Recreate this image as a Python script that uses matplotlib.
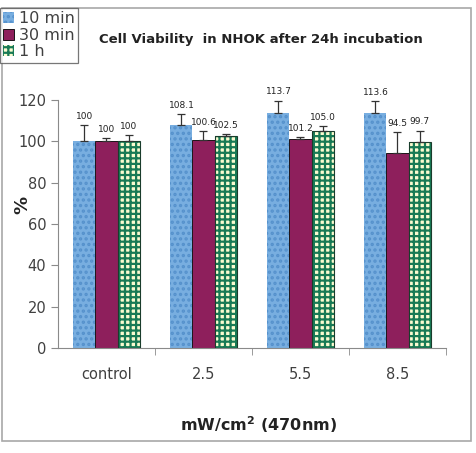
import numpy as np
import matplotlib
matplotlib.use("Agg")
import matplotlib.pyplot as plt
from matplotlib.patches import Rectangle

# data
categories = ["control", "2.5", "5.5", "8.5"]
series_names = ["10 min", "30 min", "1 h"]
values = [
    [100, 108.1, 113.7, 113.6],   # 10 min
    [100, 100.6, 101.2, 94.5],    # 30 min
    [100, 102.5, 105.0, 99.7],    # 1 h
]
errors = [
    [8.0, 5.0, 6.0, 6.0],
    [1.5, 4.5, 1.0, 10.0],
    [3.0, 1.0, 2.5, 5.5],
]
value_labels = [
    ["100", "108.1", "113.7", "113.6"],
    ["100", "100.6", "101.2", "94.5"],
    ["100", "102.5", "105.0", "99.7"],
]

plt.rcParams["hatch.linewidth"] = 1.6

W, H = 477, 453
fig = plt.figure(figsize=(W / 100, H / 100), dpi=100)

# outer frame of the chart area
fig.patches.append(Rectangle((2 / W, 1 - 441 / H), 469 / W, 433 / H,
                             transform=fig.transFigure, fill=False,
                             edgecolor="#a8a8a8", linewidth=1.2))

ax = fig.add_axes([58 / W, 1 - 348 / H, 388 / W, 248 / H])

x = np.arange(len(categories))
bw = 0.227
styles = [
    dict(color="#78aee0", edgecolor="#5591cc", hatch="...", linewidth=0),
    dict(color="#8e1f5c", edgecolor="black", linewidth=0.6),
    dict(facecolor="#fbfbd0", edgecolor="#187a55", hatch="+++", linewidth=0),
]

for i in range(3):
    pos = x + (i - 1) * bw
    ax.bar(pos, values[i], bw, label=series_names[i], zorder=2, **styles[i])
    if i == 2:
        # dark outline around the checkered bars
        ax.bar(pos, values[i], bw, fill=False, edgecolor="#1a3d2c",
               linewidth=0.8, zorder=3)
    ax.errorbar(pos, values[i], yerr=[np.zeros(4), errors[i]], fmt="none",
                ecolor="#333333", elinewidth=0.9, capsize=3, capthick=0.9, zorder=4)
    for p, v, e, lab in zip(pos, values[i], errors[i], value_labels[i]):
        ax.annotate(lab, (p, v + e), xytext=(0, 3), textcoords="offset points",
                    ha="center", va="bottom", fontsize=6.5, color="#222222")

ax.set_xlim(-0.5, 3.5)
ax.set_ylim(0, 120)
ax.set_yticks(np.arange(0, 121, 20))
ax.set_xticks(x)
ax.set_xticklabels(categories)
ax.set_xticks(np.arange(0.5, 4, 1), minor=True)
ax.tick_params(axis="x", which="major", length=0, pad=14, labelsize=10.5,
               labelcolor="#404040")
ax.tick_params(axis="x", which="minor", length=5, color="#8a8a8a")
ax.tick_params(axis="y", length=5, color="#8a8a8a", labelsize=10.5,
               labelcolor="#404040")
for s in ["top", "right"]:
    ax.spines[s].set_visible(False)
for s in ["left", "bottom"]:
    ax.spines[s].set_color("#8a8a8a")

fig.text(22 / W, 1 - 205 / H, "%", rotation=90, fontsize=13, fontweight="bold",
         ha="center", va="center", color="#222222")
fig.text(258 / W, 1 - 425 / H, "mW/cm$^\\mathbf{2}$ (470nm)", fontsize=11.5,
         fontweight="bold", ha="center", va="center", color="#222222")
fig.text(261 / W, 1 - 40 / H, "Cell Viability  in NHOK after 24h incubation",
         fontsize=9.5, fontweight="bold", ha="center", va="center", color="#222222")

leg = fig.legend(loc="upper left", bbox_to_anchor=(0.0, 1 - 8 / H), fontsize=11.5,
                 frameon=True, fancybox=False, edgecolor="#555555",
                 handlelength=0.7, handleheight=0.7, handletextpad=0.3,
                 borderpad=0.2, labelspacing=0.1, borderaxespad=0)
leg.get_frame().set_linewidth(0.9)
for t in leg.get_texts():
    t.set_color("#404040")

fig.savefig("out.png", dpi=100)
